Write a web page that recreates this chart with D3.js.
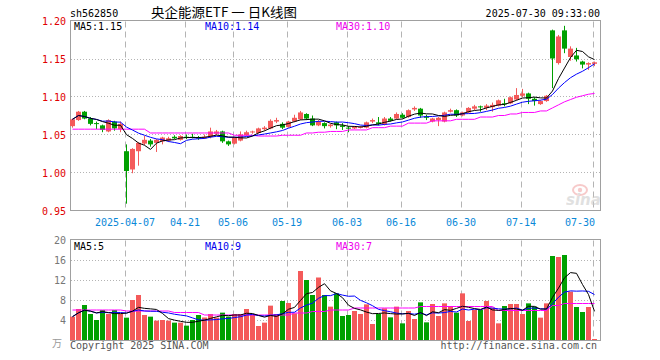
<!DOCTYPE html>
<html><head><meta charset="utf-8">
<script src="https://cdn.jsdelivr.net/npm/d3@7"></script>
<style>body{margin:0;background:#fff}svg{display:block}</style>
</head><body><svg id="c" width="660" height="360"></svg>
<script>
const dates = ["2025-03-24","2025-03-25","2025-03-26","2025-03-27","2025-03-28","2025-03-31",
"2025-04-01","2025-04-02","2025-04-03","2025-04-07","2025-04-08","2025-04-09","2025-04-10","2025-04-11",
"2025-04-14","2025-04-15","2025-04-16","2025-04-17","2025-04-18","2025-04-21","2025-04-22","2025-04-23","2025-04-24","2025-04-25",
"2025-04-28","2025-04-29","2025-04-30","2025-05-06","2025-05-07","2025-05-08","2025-05-09",
"2025-05-12","2025-05-13","2025-05-14","2025-05-15","2025-05-16","2025-05-19","2025-05-20","2025-05-21","2025-05-22","2025-05-23",
"2025-05-26","2025-05-27","2025-05-28","2025-05-29","2025-05-30","2025-06-03","2025-06-04","2025-06-05","2025-06-06",
"2025-06-09","2025-06-10","2025-06-11","2025-06-12","2025-06-13","2025-06-16","2025-06-17","2025-06-18","2025-06-19","2025-06-20",
"2025-06-23","2025-06-24","2025-06-25","2025-06-26","2025-06-27","2025-06-30","2025-07-01","2025-07-02","2025-07-03","2025-07-04",
"2025-07-07","2025-07-08","2025-07-09","2025-07-10","2025-07-11","2025-07-14","2025-07-15","2025-07-16","2025-07-17","2025-07-18",
"2025-07-21","2025-07-22","2025-07-23","2025-07-24","2025-07-25","2025-07-28","2025-07-29","2025-07-30"];

const open  = [1.061,1.069,1.080,1.071,1.065,1.062,1.054,1.067,1.057,1.028,1.004,1.028,1.038,1.042,1.039,1.041,1.042,1.047,1.043,1.047,
1.047,1.046,1.045,1.047,1.051,1.054,1.041,1.038,1.042,1.049,1.053,1.052,1.057,1.058,1.067,1.064,1.060,1.067,1.070,1.077,
1.071,1.062,1.065,1.061,1.066,1.062,1.059,1.058,1.059,1.059,1.067,1.066,1.063,1.071,1.071,1.076,1.073,1.083,1.084,1.074,
1.067,1.069,1.067,1.080,1.082,1.075,1.079,1.084,1.087,1.085,1.086,1.088,1.091,1.091,1.096,1.101,1.104,1.097,1.090,1.094,
1.187,1.144,1.187,1.152,1.154,1.146,1.142,1.143];
const high  = [1.071,1.081,1.081,1.073,1.067,1.063,1.070,1.068,1.067,1.037,1.032,1.040,1.048,1.044,1.044,1.047,1.047,1.049,1.049,1.050,
1.051,1.048,1.050,1.059,1.056,1.055,1.042,1.047,1.054,1.055,1.055,1.059,1.061,1.070,1.072,1.066,1.068,1.076,1.081,1.078,
1.075,1.069,1.066,1.064,1.067,1.065,1.061,1.061,1.061,1.067,1.071,1.073,1.073,1.073,1.079,1.078,1.083,1.087,1.085,1.076,
1.072,1.073,1.080,1.084,1.083,1.080,1.086,1.089,1.088,1.090,1.092,1.096,1.097,1.100,1.111,1.110,1.105,1.099,1.095,1.102,
1.188,1.181,1.193,1.166,1.164,1.147,1.145,1.146];
const low   = [1.059,1.068,1.070,1.062,1.057,1.053,1.053,1.055,1.053,0.959,0.999,1.009,1.036,1.034,1.027,1.037,1.040,1.044,1.042,1.044,
1.045,1.043,1.044,1.045,1.049,1.039,1.035,1.037,1.041,1.048,1.051,1.051,1.055,1.057,1.065,1.057,1.059,1.066,1.069,1.069,
1.061,1.061,1.058,1.059,1.057,1.056,1.053,1.057,1.058,1.058,1.065,1.062,1.062,1.067,1.070,1.071,1.072,1.081,1.072,1.069,
1.066,1.061,1.066,1.079,1.073,1.074,1.078,1.082,1.080,1.082,1.080,1.087,1.087,1.090,1.095,1.099,1.090,1.088,1.089,1.093,
1.111,1.142,1.157,1.147,1.146,1.137,1.135,1.140];
const close = [1.070,1.080,1.071,1.064,1.064,1.056,1.069,1.058,1.064,1.002,1.031,1.039,1.043,1.037,1.043,1.046,1.045,1.045,1.048,1.046,
1.046,1.045,1.047,1.054,1.054,1.041,1.037,1.046,1.050,1.053,1.054,1.058,1.059,1.068,1.069,1.059,1.067,1.072,1.079,1.071,
1.062,1.067,1.061,1.063,1.062,1.060,1.058,1.060,1.060,1.066,1.069,1.064,1.071,1.068,1.077,1.072,1.082,1.085,1.075,1.072,
1.071,1.072,1.079,1.082,1.075,1.079,1.085,1.087,1.086,1.088,1.089,1.095,1.090,1.099,1.102,1.104,1.097,1.094,1.094,1.101,
1.150,1.179,1.163,1.163,1.149,1.142,1.144,1.145];
// volume, in 万 (10k)
const volume = [4.67,6.2,7.0,5.2,4.0,6.0,5.2,6.0,5.2,4.47,8.0,9.0,5.0,4.67,3.87,4.0,3.87,3.47,3.47,2.87,
4.0,5.0,4.5,5.2,4.47,5.47,4.67,5.2,5.2,6.2,5.2,2.8,3.47,6.87,5.2,7.8,7.4,5.33,13.8,12.0,
9.0,12.5,9.0,6.67,9.33,4.8,5.0,5.8,5.2,7.13,3.2,5.2,6.33,4.53,6.67,3.33,5.8,4.2,7.53,3.53,
7.2,4.8,7.33,6.8,5.47,9.33,3.8,6.0,6.0,7.8,6.47,3.33,6.8,7.2,7.2,5.2,7.33,6.67,4.47,7.33,
16.8,16.6,17.0,9.67,6.6,5.6,6.6,0.2];
// 30-day averages as drawn on the reference
const ma30 = [1.057,1.057,1.057,1.057,1.057,1.057,1.057,1.057,1.057,1.057,1.057,1.057,1.057,
1.052,1.052,1.052,1.052,1.052,1.052,1.052,1.052,1.052,1.052,1.052,1.052,1.052,1.052,
1.049,1.049,1.049,1.049,1.048,1.048,1.048,1.048,1.049,1.049,1.049,1.049,1.052,1.052,1.053,1.053,
1.054,1.054,1.054,1.056,1.056,1.056,1.056,1.059,1.059,1.059,1.061,1.061,1.061,
1.065,1.065,1.065,1.065,1.068,1.068,1.068,1.068,1.070,1.070,1.070,1.070,1.073,1.073,1.073,
1.075,1.075,1.077,1.077,1.079,1.079,1.079,1.081,1.081,
1.085,1.089,1.093,1.096,1.099,1.101,1.103,1.104];
const volMa30 = [6.0,6.0,6.0,6.0,6.0,6.0,6.0,6.0,6.0,
5.8,5.8,5.8,5.8,5.8,5.8,5.8,5.8,
5.5,5.5,5.5,5.5,5.5,
5.0,5.0,5.0,5.0,5.0,5.0,5.0,5.0,5.0,5.0,5.0,5.0,5.0,5.0,5.0,
5.4,5.4,5.4,5.7,5.7,5.7,6.0,6.0,6.0,6.0,
6.4,6.4,6.4,6.4,6.4,6.4,6.4,6.4,6.4,6.4,6.4,
6.7,6.7,6.7,6.7,6.7,6.7,6.7,6.7,6.7,6.7,6.7,6.7,6.7,
5.9,5.9,5.9,5.9,5.9,5.9,5.9,5.9,5.9,
6.9,6.9,7.3,7.3,7.3,7.3,7.3,7.3];

const priceTicks = [1.20,1.15,1.10,1.05,1.00,0.95];
const volTicks = [20,16,12,8,4];
const tickDates = ["2025-04-07","2025-04-21","2025-05-06","2025-05-19","2025-06-03","2025-06-16","2025-06-30","2025-07-14","2025-07-30"];
const tickLabels = ["2025-04-07","04-21","05-06","05-19","06-03","06-16","06-30","07-14","07-30"];

const UP = "#f45a5a", DOWN = "#00a000", GRID = "#b4b4b4", FRAME = "#a0a0a0";
const MONO = "'DejaVu Sans Mono','Liberation Mono',monospace";

function movingAvg(arr, n) {
  return arr.map((_, i) => d3.mean(arr.slice(Math.max(0, i - n + 1), i + 1)));
}
const ma5 = movingAvg(close, 5), ma10 = movingAvg(close, 10);
const vma5 = movingAvg(volume, 5), vma10 = movingAvg(volume, 10);

const svg = d3.select("#c");
const x = d3.scaleBand().domain(dates).range([69.5, 597.5]);
const cx = d => x(d) + x.bandwidth() / 2;
const yP = d3.scaleLinear().domain([0.95, 1.20]).range([210.5, 20.5]);
const yV = d3.scaleLinear().domain([0, 20]).range([340, 240]);

const rows = dates.map((d, i) => ({d, o: open[i], h: high[i], l: low[i], c: close[i], v: volume[i]}));
const col = r => r.c >= r.o ? UP : DOWN;

// header
svg.append("text").attr("x", 70).attr("y", 16.5).attr("font-family", MONO).attr("font-size", 10)
  .attr("fill", "#000").text("sh562850");
svg.append("text").attr("x", 151).attr("y", 17).attr("font-family", "'Noto Sans CJK SC',sans-serif")
  .attr("font-size", 13).attr("fill", "#000").attr("textLength", 146).attr("lengthAdjust", "spacingAndGlyphs")
  .text("央企能源ETF 一 日K线图");
svg.append("text").attr("x", 600).attr("y", 16.5).attr("text-anchor", "end").attr("font-family", MONO)
  .attr("font-size", 10).attr("fill", "#000").text("2025-07-30 09:33:00");

function panel(top, bottom, yScale, ticks) {
  const g = svg.append("g");
  // horizontal dotted grid
  g.selectAll("line.h").data(ticks.filter(t => yScale(t) > top + 1 && yScale(t) < bottom - 1)).join("line")
    .attr("x1", 71).attr("x2", 600).attr("y1", t => Math.round(yScale(t)) + 0.5).attr("y2", t => Math.round(yScale(t)) + 0.5)
    .attr("stroke", GRID).attr("stroke-dasharray", "1,2");
  // vertical dashed grid
  g.selectAll("line.v").data(tickDates).join("line")
    .attr("x1", d => Math.floor(cx(d) - 1) + 0.5).attr("x2", d => Math.floor(cx(d) - 1) + 0.5)
    .attr("y1", top + 1).attr("y2", bottom).attr("stroke", GRID).attr("stroke-dasharray", "6,4");
  return g;
}
panel(20.5, 210.5, yP, priceTicks);
panel(239.5, 340, yV, volTicks);

// watermark
const wm = svg.append("g").attr("opacity", 0.55);
wm.append("ellipse").attr("cx", 580).attr("cy", 190).attr("rx", 7).attr("ry", 5).attr("fill", "none").attr("stroke", "#f2a0a0").attr("stroke-width", 2);
wm.append("circle").attr("cx", 580).attr("cy", 190).attr("r", 2.2).attr("fill", "#f2a0a0");
wm.append("text").attr("x", 566).attr("y", 205).attr("font-family", "'DejaVu Sans',sans-serif").attr("font-style", "italic")
  .attr("font-weight", "bold").attr("font-size", 15).attr("fill", "#c8c8c8").text("sina");

// frames
svg.append("rect").attr("x", 70.5).attr("y", 20.5).attr("width", 530).attr("height", 190)
  .attr("fill", "none").attr("stroke", FRAME);
svg.append("rect").attr("x", 70.5).attr("y", 239.5).attr("width", 530).attr("height", 101)
  .attr("fill", "none").attr("stroke", FRAME);

// candles
const cg = svg.append("g");
cg.selectAll("line").data(rows).join("line")
  .attr("x1", r => cx(r.d)).attr("x2", r => cx(r.d))
  .attr("y1", r => yP(r.h)).attr("y2", r => yP(r.l)).attr("stroke", col);
cg.selectAll("rect").data(rows).join("rect")
  .attr("x", r => cx(r.d) - 2.5).attr("width", 5)
  .attr("y", r => yP(Math.max(r.o, r.c)))
  .attr("height", r => Math.max(1, Math.abs(yP(r.o) - yP(r.c))))
  .attr("fill", col);

// volume bars
svg.append("g").selectAll("rect").data(rows).join("rect")
  .attr("x", r => cx(r.d) - 2.5).attr("width", 5)
  .attr("y", r => yV(r.v)).attr("height", r => yV(0) - yV(r.v)).attr("fill", col);

// MA lines
function drawLine(vals, yScale, color) {
  svg.append("path").datum(vals)
    .attr("d", d3.line().x((v, i) => cx(dates[i])).y(v => yScale(v)))
    .attr("fill", "none").attr("stroke", color).attr("stroke-width", 1);
}
drawLine(ma30, yP, "#ff00ff"); drawLine(ma10, yP, "#0000ff"); drawLine(ma5, yP, "#000");
drawLine(volMa30, yV, "#ff00ff"); drawLine(vma10, yV, "#0000ff"); drawLine(vma5, yV, "#000");

// axes
const pa = svg.append("g").attr("transform", "translate(66,0)")
  .call(d3.axisLeft(yP).tickValues(priceTicks).tickSize(0).tickPadding(0).tickFormat(d3.format(".2f")));
pa.select(".domain").remove();
pa.selectAll("text").attr("font-family", MONO).attr("font-size", 10).attr("fill", "#e00000").attr("dy", "0.35em");

const va = svg.append("g").attr("transform", "translate(66,0)")
  .call(d3.axisLeft(yV).tickValues(volTicks).tickSize(0).tickPadding(0).tickFormat(d3.format("d")));
va.select(".domain").remove();
va.selectAll("text").attr("font-family", MONO).attr("font-size", 10).attr("fill", "#777").attr("dy", "0.35em");
svg.append("text").attr("x", 52).attr("y", 347).attr("font-family", "'Noto Sans CJK SC',sans-serif")
  .attr("font-size", 10).attr("fill", "#999").text("万");

const xa = svg.append("g").attr("transform", "translate(0,217)")
  .call(d3.axisBottom(x).tickValues(tickDates).tickSize(0).tickPadding(0)
    .tickFormat(d => tickLabels[tickDates.indexOf(d)]));
xa.select(".domain").remove();
xa.selectAll(".tick").attr("transform", d => `translate(${Math.floor(cx(d) - 1)},0)`);
xa.selectAll("text").attr("font-family", MONO).attr("font-size", 10).attr("fill", "#0a88d8").attr("y", 9).attr("dy", 0)
  .attr("text-anchor", (d, i) => i === tickDates.length - 1 ? "end" : "middle")
  .attr("dx", (d, i) => i === tickDates.length - 1 ? 2 : 0);

// legends
const fmt2 = d3.format(".2f");
const last = a => a[a.length - 1];
const legP = [["MA5:" + fmt2(last(ma5)), "#000", 74], ["MA10:" + fmt2(last(ma10)), "#0000ee", 205], ["MA30:" + fmt2(last(ma30)), "#ee00ee", 336]];
const legV = [["MA5:" + Math.floor(last(vma5)), "#000", 74], ["MA10:" + Math.floor(last(vma10)), "#0000ee", 205], ["MA30:" + Math.floor(last(volMa30)), "#ee00ee", 336]];
svg.append("g").selectAll("text").data(legP).join("text").attr("x", d => d[2]).attr("y", 30)
  .attr("font-family", MONO).attr("font-size", 10).attr("fill", d => d[1]).text(d => d[0]);
svg.append("g").selectAll("text").data(legV).join("text").attr("x", d => d[2]).attr("y", 250)
  .attr("font-family", MONO).attr("font-size", 10).attr("fill", d => d[1]).text(d => d[0]);

// footer
svg.append("text").attr("x", 70).attr("y", 349).attr("font-family", MONO).attr("font-size", 10).attr("fill", "#555")
  .text("Copyright 2025 SINA.COM");
svg.append("text").attr("x", 597).attr("y", 349).attr("text-anchor", "end").attr("font-family", MONO).attr("font-size", 10)
  .attr("fill", "#555").text("http://finance.sina.com.cn");
</script></body></html>
